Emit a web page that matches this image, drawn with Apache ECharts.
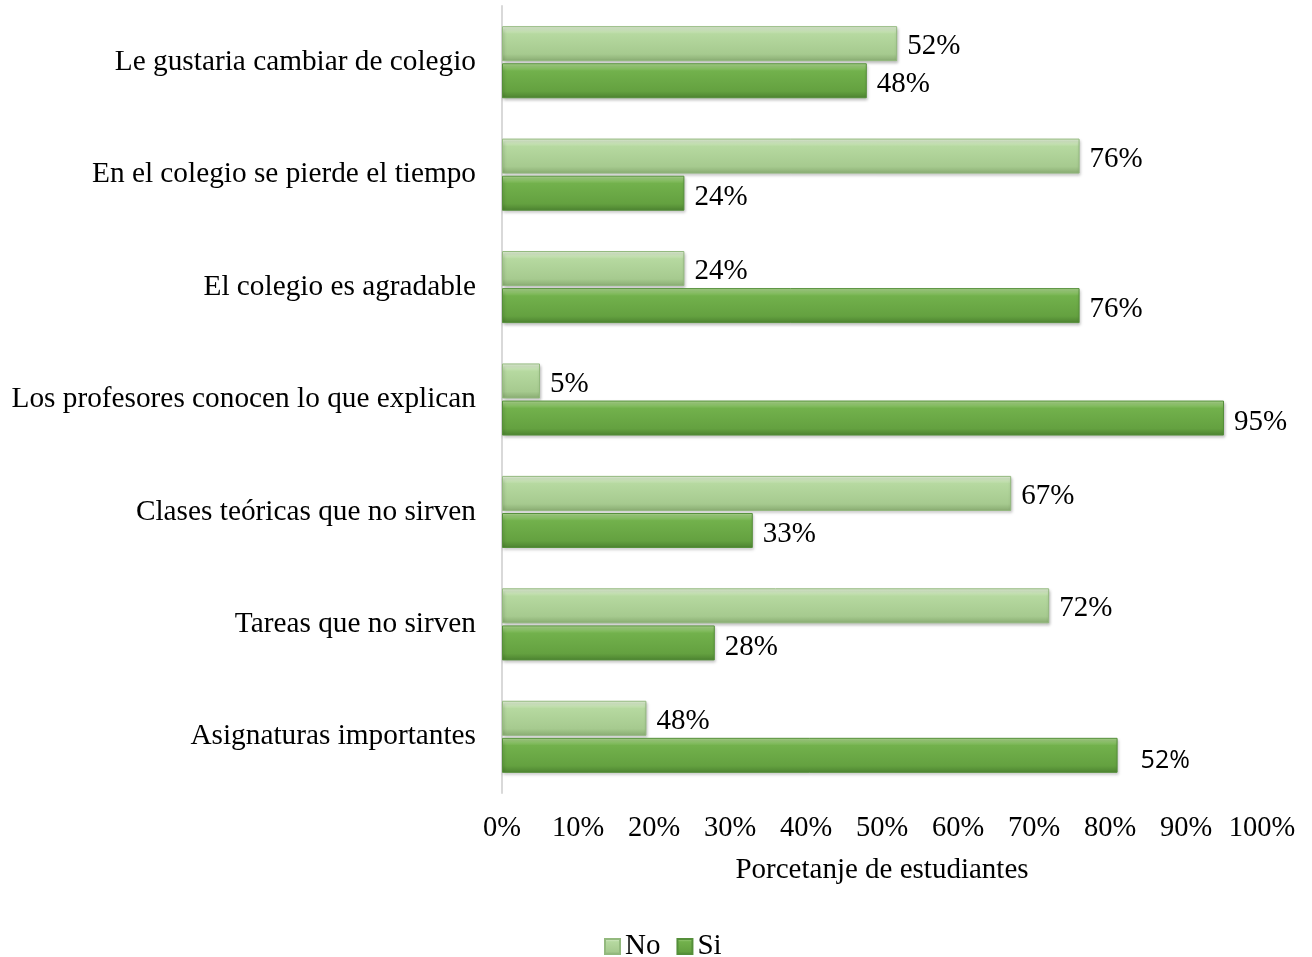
<!DOCTYPE html>
<html lang="es">
<head>
    <meta charset="UTF-8">
    <title>Porcentaje de estudiantes</title>
    <script type="text/javascript" src="https://cdn.jsdelivr.net/npm/echarts@6/dist/echarts.min.js"></script>
    <style>
        html, body { margin: 0; padding: 0; background: #fff; }
        #main { width: 1312px; height: 957px; }
    </style>
</head>
<body>
<div id="main"></div>
<script type="text/javascript">
    // datos
    var categorias = [
        'Le gustaria cambiar de colegio',
        'En el colegio se pierde el tiempo',
        'El colegio es agradable',
        'Los profesores conocen lo que explican',
        'Clases teóricas que no sirven',
        'Tareas que no sirven',
        'Asignaturas importantes'
    ];
    // largo de las barras (%)
    var valoresNo = [52, 76, 24, 5, 67, 72, 19];
    var valoresSi = [48, 24, 76, 95, 33, 28, 81];
    // etiquetas tal como aparecen en el original
    var etiquetasNo = ['52%', '76%', '24%', '5%', '67%', '72%', '48%'];
    var etiquetasSi = ['48%', '24%', '76%', '95%', '33%', '28%', '52%'];
    var ticksX = [0, 10, 20, 30, 40, 50, 60, 70, 80, 90, 100];

    var serif = '"Liberation Serif", "Times New Roman", serif';

    function grad(top, mid, low, bottom) {
        return new echarts.graphic.LinearGradient(0, 0, 0, 1, [
            {offset: 0, color: top},
            {offset: 0.22, color: mid},
            {offset: 0.8, color: low},
            {offset: 1, color: bottom}
        ]);
    }

    function datos(valores, etiquetas, ultimoSans) {
        return valores.map(function (v, i) {
            var d = {value: v, etiqueta: etiquetas[i]};
            if (ultimoSans && i === valores.length - 1) {
                d.label = {fontFamily: '"Open Sans", "Liberation Sans", sans-serif', fontSize: 25, offset: [13, 6]};
            }
            return d;
        });
    }

    var myChart = echarts.init(document.getElementById('main'));
    var option = {
        animation: false,
        grid: {left: 502, right: 50, top: 6, bottom: 164},
        legend: {
            data: ['No', 'Si'],
            top: 927,
            left: 599,
            icon: 'rect',
            itemWidth: 15,
            itemHeight: 15,
            itemGap: 16,
            textStyle: {fontFamily: serif, fontSize: 29, color: '#000'}
        },
        xAxis: {
            type: 'value',
            min: 0,
            max: 100,
            interval: 10,
            splitLine: {show: false},
            axisLine: {show: false},
            axisTick: {show: false},
            axisLabel: {
                margin: 21,
                fontFamily: serif,
                fontSize: 28.5,
                color: '#000',
                formatter: function (v) { return ticksX.indexOf(v) >= 0 ? v + '%' : ''; }
            },
            name: 'Porcetanje de estudiantes',
            nameLocation: 'middle',
            nameGap: 63,
            nameTextStyle: {fontFamily: serif, fontSize: 29, color: '#000'}
        },
        yAxis: {
            type: 'category',
            data: categorias,
            inverse: true,
            axisLine: {show: true, lineStyle: {color: '#d9d9d9', width: 2}},
            axisTick: {show: false},
            axisLabel: {margin: 26, fontFamily: serif, fontSize: 29.3, color: '#000'}
        },
        series: [{
            name: 'No',
            type: 'bar',
            barWidth: 35,
            barGap: '6%',
            data: datos(valoresNo, etiquetasNo, false),
            itemStyle: {
                color: grad('#e6f3dc', '#b6d9a0', '#a6ca8f', '#88ab71'),
                borderColor: '#93b97e',
                borderWidth: 1,
                shadowColor: 'rgba(0,0,0,0.25)',
                shadowBlur: 3,
                shadowOffsetX: 1,
                shadowOffsetY: 2
            },
            label: {
                show: true,
                position: 'right',
                distance: 10,
                offset: [0, 3],
                fontFamily: serif,
                fontSize: 29,
                color: '#000',
                formatter: function (p) { return p.data.etiqueta; }
            }
        }, {
            name: 'Si',
            type: 'bar',
            barWidth: 35,
            barGap: '6%',
            data: datos(valoresSi, etiquetasSi, true),
            itemStyle: {
                color: grad('#b0da92', '#72b14c', '#64a140', '#4c8230'),
                borderColor: '#558f3a',
                borderWidth: 1,
                shadowColor: 'rgba(0,0,0,0.25)',
                shadowBlur: 3,
                shadowOffsetX: 1,
                shadowOffsetY: 2
            },
            label: {
                show: true,
                position: 'right',
                distance: 10,
                offset: [0, 4],
                fontFamily: serif,
                fontSize: 29,
                color: '#000',
                formatter: function (p) { return p.data.etiqueta; }
            }
        }]
    };
    myChart.setOption(option);
</script>
</body>
</html>
